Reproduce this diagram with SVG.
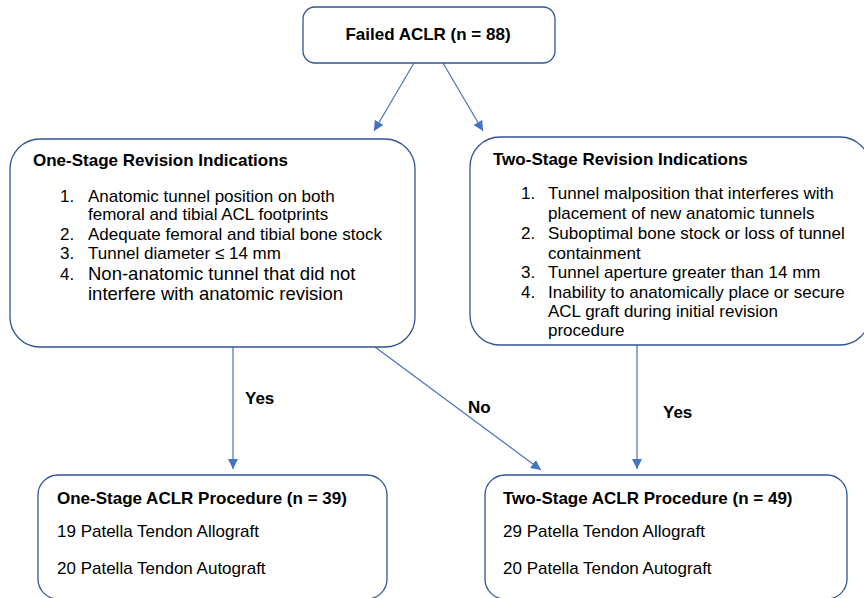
<svg xmlns="http://www.w3.org/2000/svg" width="864" height="598" viewBox="0 0 864 598">
<style>
.box{fill:#fff;stroke:#2F5597;stroke-width:1.3}
.t{font-family:"Liberation Sans",Arial,sans-serif;fill:#000}
.b{font-weight:bold;font-size:17px}
.r{font-size:17px}
.r4{font-size:18.5px}
.c{fill:none;stroke:#4472C4;stroke-width:1.2}
</style>
<defs>
<marker id="ah" viewBox="0 0 10 10" refX="10" refY="5" markerWidth="10" markerHeight="10" markerUnits="userSpaceOnUse" orient="auto">
<path d="M0,0 L10,5 L0,10 z" fill="#4472C4"/>
</marker>
</defs>
<rect width="864" height="598" fill="#fff"/>
<g id="connectors">
<line class="c" x1="414" y1="63" x2="374" y2="131" marker-end="url(#ah)"/>
<line class="c" x1="443" y1="63" x2="483" y2="131" marker-end="url(#ah)"/>
<line class="c" x1="233" y1="347" x2="233" y2="469" marker-end="url(#ah)"/>
<line class="c" x1="375" y1="347" x2="541" y2="470" marker-end="url(#ah)"/>
<line class="c" x1="637" y1="345" x2="637" y2="469" marker-end="url(#ah)"/>
<text class="t b" x="245" y="404">Yes</text>
<text class="t b" x="468" y="413">No</text>
<text class="t b" x="663" y="418">Yes</text>
</g>
<g id="failed">
<rect class="box" x="303" y="7" width="252" height="56" rx="12"/>
<text class="t b" x="428" y="40" text-anchor="middle">Failed ACLR (n = 88)</text>
</g>
<g id="one-stage-indications">
<rect class="box" x="10" y="139" width="405" height="208" rx="30"/>
<text class="t b" x="33" y="166">One-Stage Revision Indications</text>
<text class="t r" x="60" y="202">1.</text>
<text class="t r" x="88" y="202">Anatomic tunnel position on both</text>
<text class="t r" x="88" y="220">femoral and tibial ACL footprints</text>
<text class="t r" x="60" y="240">2.</text>
<text class="t r" x="88" y="240">Adequate femoral and tibial bone stock</text>
<text class="t r" x="60" y="259">3.</text>
<text class="t r" x="88" y="259">Tunnel diameter ≤ 14 mm</text>
<text class="t r" x="60" y="280">4.</text>
<text class="t r4" x="88" y="280">Non-anatomic tunnel that did not</text>
<text class="t r4" x="88" y="300">interfere with anatomic revision</text>
</g>
<g id="two-stage-indications">
<rect class="box" x="470" y="137" width="400" height="208" rx="30"/>
<text class="t b" x="493" y="165">Two-Stage Revision Indications</text>
<text class="t r" x="521" y="199">1.</text>
<text class="t r" x="548" y="199">Tunnel malposition that interferes with</text>
<text class="t r" x="548" y="219">placement of new anatomic tunnels</text>
<text class="t r" x="521" y="239">2.</text>
<text class="t r" x="548" y="239">Suboptimal bone stock or loss of tunnel</text>
<text class="t r" x="548" y="259">containment</text>
<text class="t r" x="521" y="278">3.</text>
<text class="t r" x="548" y="278">Tunnel aperture greater than 14 mm</text>
<text class="t r" x="521" y="298">4.</text>
<text class="t r" x="548" y="298">Inability to anatomically place or secure</text>
<text class="t r" x="548" y="317">ACL graft during initial revision</text>
<text class="t r" x="548" y="336">procedure</text>
</g>
<g id="one-stage-procedure">
<rect class="box" x="38" y="475" width="349" height="124" rx="20"/>
<text class="t b" x="57" y="504">One-Stage ACLR Procedure (n = 39)</text>
<text class="t r" x="57" y="537">19 Patella Tendon Allograft</text>
<text class="t r" x="57" y="574">20 Patella Tendon Autograft</text>
</g>
<g id="two-stage-procedure">
<rect class="box" x="485" y="475" width="362" height="124" rx="20"/>
<text class="t b" x="503" y="504">Two-Stage ACLR Procedure (n = 49)</text>
<text class="t r" x="503" y="537">29 Patella Tendon Allograft</text>
<text class="t r" x="503" y="574">20 Patella Tendon Autograft</text>
</g>
</svg>
